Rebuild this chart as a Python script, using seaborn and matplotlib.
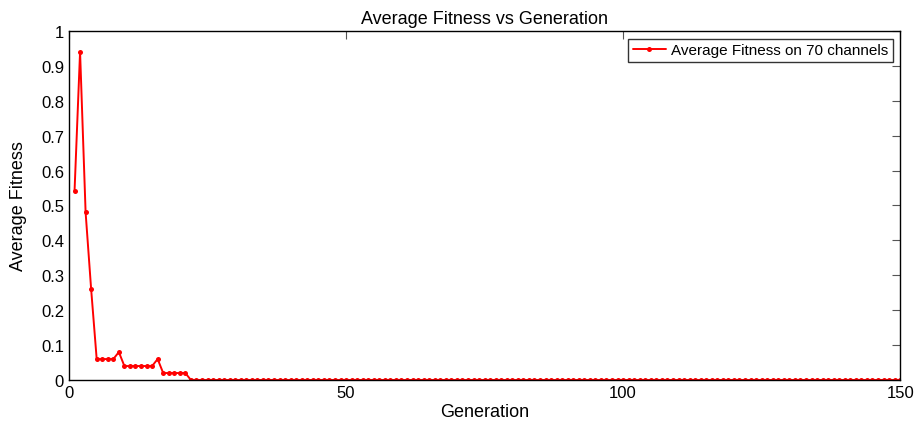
import numpy as np
import pandas as pd
import seaborn as sns
from matplotlib import pyplot as plt

# values, generation 1..150
generations = list(range(1, 151))
fitness_head = [0.54, 0.94, 0.48, 0.26,
                0.06, 0.06, 0.06, 0.06,
                0.08,
                0.04, 0.04, 0.04, 0.04, 0.04, 0.04,
                0.06,
                0.02, 0.02, 0.02, 0.02, 0.02]
fitness = fitness_head + [0.0] * (len(generations) - len(fitness_head))

y_ticks = [0, 0.1, 0.2, 0.3, 0.4, 0.5, 0.6, 0.7, 0.8, 0.9, 1]
y_tick_labels = ["0", "0.1", "0.2", "0.3", "0.4", "0.5", "0.6", "0.7", "0.8", "0.9", "1"]
x_ticks = [0, 50, 100, 150]

df = pd.DataFrame({"Generation": generations, "Average Fitness": fitness})

sns.set_style("white")
plt.rcParams["font.family"] = ["Liberation Sans", "DejaVu Sans"]
plt.rcParams.update({"text.color": "black", "axes.labelcolor": "black",
                     "xtick.labelcolor": "black", "ytick.labelcolor": "black"})

fig = plt.figure(figsize=(9.21, 4.31), dpi=100)
ax = fig.add_axes([0.0749, 0.116, 0.9025, 0.810])

sns.lineplot(data=df, x="Generation", y="Average Fitness", color="red",
             marker="o", markersize=3.6, markeredgewidth=0, linewidth=1.4,
             label="Average Fitness on 70 channels", ax=ax)

ax.set_xlim(0, 150)
ax.set_ylim(0, 1)
ax.set_xticks(x_ticks)
ax.set_xticklabels([str(t) for t in x_ticks])
ax.set_yticks(y_ticks)
ax.set_yticklabels(y_tick_labels)
ax.tick_params(direction="in", length=6, width=0.8, labelsize=12,
               top=True, right=True, color="#555555")
for s in ax.spines.values():
    s.set_color("black")
    s.set_linewidth(1.0)

ax.set_xlabel("Generation", fontsize=13, labelpad=2)
ax.set_ylabel("Average Fitness", fontsize=13, labelpad=10)
ax.set_title("Average Fitness vs Generation", fontsize=13, pad=6)

leg = ax.legend(loc="upper right", fontsize=11, frameon=True, fancybox=False,
                borderpad=0.3, handlelength=2.2, handletextpad=0.3,
                borderaxespad=0.5)
leg.get_frame().set_edgecolor("black")
leg.get_frame().set_linewidth(1.0)

fig.savefig("out.png", dpi=100)
